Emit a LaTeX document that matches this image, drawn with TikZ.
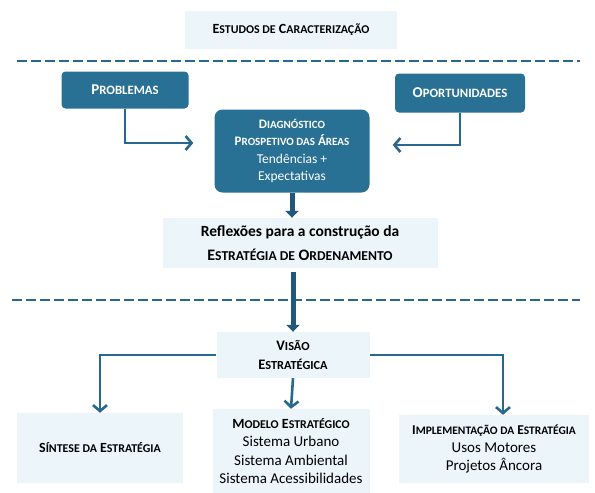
\documentclass[tikz,border=0pt]{standalone}
\usepackage{fontspec}
\setmainfont{Carlito}
\usetikzlibrary{arrows.meta,positioning}
\definecolor{boxblue}{RGB}{40,112,148}
\definecolor{lineblue}{RGB}{38,104,146}
\definecolor{paleblue}{RGB}{236,246,250}
\makeatletter
\newcommand{\smc}[1]{{\@tempdima=\f@size pt\@tempdima=0.85\@tempdima
  \fontsize{\strip@pt\@tempdima}{\f@baselineskip}\selectfont #1}}
\makeatother
\newcommand{\fs}[2]{\fontsize{#1}{#2}\selectfont}
\tikzset{
  darkbox/.style={fill=boxblue, rounded corners=4pt, text=white, align=center,
    inner sep=0pt, font=\bfseries\fs{15}{18}},
  palebox/.style={fill=paleblue, align=center, inner sep=0pt, font=\fs{15}{18.5}},
  thinarrow/.style={draw=lineblue, line width=2.6pt,
    -{Straight Barb[length=6pt,width=14pt]}},
  fatarrow/.style={draw=lineblue!85!black, line width=5pt,
    -{Triangle[length=7pt,width=13pt]}},
  divider/.style={draw=lineblue, line width=2.5pt, dash pattern=on 10pt off 4pt}
}
\begin{document}
\begin{tikzpicture}[x=1pt,y=-1pt]
\useasboundingbox (0,0) rectangle (595,493);
% top
\node[palebox, minimum width=212pt, minimum height=38pt] (estudos) at (291,30)
  {\bfseries\fs{14}{18}E\smc{STUDOS DE} C\smc{ARACTERIZAÇÃO}};
\coordinate (d1a) at (17,61);
\coordinate (d1b) at (580,61);
\draw[divider] (d1a) -- (d1b);
% diagnostico
\node[darkbox, minimum width=127pt, minimum height=37pt] (problemas) at (125,90) {P\smc{ROBLEMAS}};
\node[darkbox, minimum width=130pt, minimum height=39pt] (oportunidades) at (460,93) {O\smc{PORTUNIDADES}};
\node[darkbox, minimum width=155pt, minimum height=83pt, rounded corners=8pt, font=\bfseries\fs{13}{17.5}] (diagnostico) at (292,151)
  {D\smc{IAGNÓSTICO}\\P\smc{ROSPETIVO DAS} Á\smc{REAS}\\{\mdseries\fs{13.5}{17.5}Tendências +}\\{\mdseries\fs{13.5}{17.5}Expectativas}};
\draw[thinarrow] (problemas.south) |- ([xshift=-21pt,yshift=8pt]diagnostico.west);
\draw[thinarrow] (oportunidades.south) |- ([xshift=23pt,yshift=6pt]diagnostico.east);
\node[palebox, minimum width=275pt, minimum height=50pt, font=\bfseries\fs{15.5}{24}] (reflexoes) at (300,243)
  {Reflexões para a construção da\\\fs{16}{24}E\smc{STRATÉGIA DE} O\smc{RDENAMENTO}};
\draw[fatarrow] (diagnostico.south) -- (diagnostico.south |- reflexoes.north);
% second part
\coordinate (d2a) at (12,300);
\coordinate (d2b) at (580,300);
\draw[divider] (d2a) -- (d2b);
\node[palebox, minimum width=153pt, minimum height=46pt, font=\bfseries\fs{14.5}{19}] (visao) at (293,355)
  {V\smc{ISÃO}\\E\smc{STRATÉGICA}};
\draw[fatarrow] ([yshift=-4pt]visao.north |- reflexoes.south) -- (visao.north);
\node[palebox, minimum width=166pt, minimum height=70pt] (sintese) at (100,448)
  {\bfseries\fs{14}{18}S\smc{ÍNTESE DA} E\smc{STRATÉGIA}};
\node[palebox, minimum width=157pt, minimum height=84pt] (modelo) at (291,451)
  {{\bfseries\fs{14}{18.5}M\smc{ODELO} E\smc{STRATÉGICO}}\\Sistema Urbano\\Sistema Ambiental\\Sistema Acessibilidades};
\node[palebox, minimum width=190pt, minimum height=68pt, font=\fs{15}{18}] (implementacao) at (494,449)
  {{\bfseries\fs{13.5}{18}I\smc{MPLEMENTAÇÃO DA} E\smc{STRATÉGIA}}\\Usos Motores\\Projetos Âncora};
\draw[thinarrow] (visao.west) -| (sintese.north);
\draw[thinarrow] (visao.east) -| ([xshift=9pt]implementacao.north);
\draw[thinarrow] (visao.south) -- (modelo.north);
\end{tikzpicture}
\end{document}
